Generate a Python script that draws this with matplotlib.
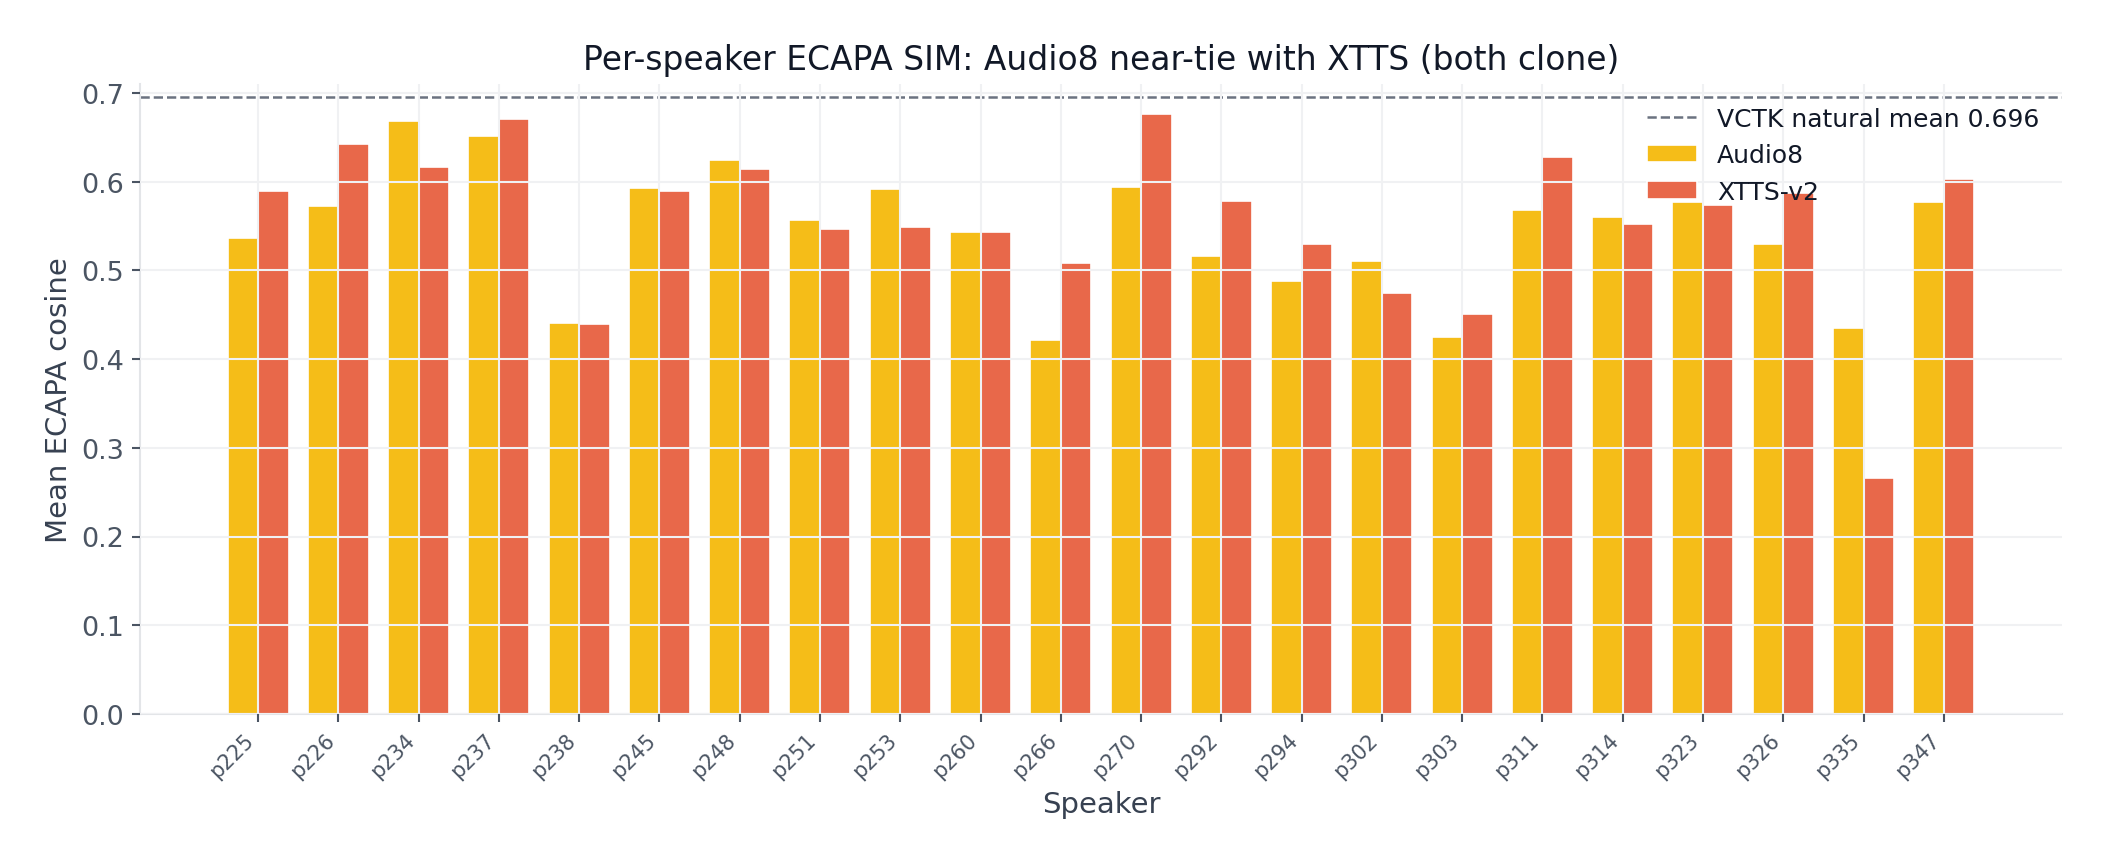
import numpy as np
import matplotlib
matplotlib.use("Agg")
import matplotlib.pyplot as plt

# per-speaker mean ECAPA cosine similarity
speakers = ["p225", "p226", "p234", "p237", "p238", "p245", "p248", "p251",
            "p253", "p260", "p266", "p270", "p292", "p294", "p302", "p303",
            "p311", "p314", "p323", "p326", "p335", "p347"]
audio8 = [0.537, 0.573, 0.668, 0.651, 0.441, 0.593, 0.624, 0.557,
          0.592, 0.543, 0.421, 0.594, 0.516, 0.488, 0.511, 0.425,
          0.568, 0.560, 0.577, 0.530, 0.435, 0.577]
xtts = [0.590, 0.643, 0.616, 0.671, 0.440, 0.590, 0.614, 0.547,
        0.549, 0.543, 0.508, 0.676, 0.578, 0.530, 0.475, 0.451,
        0.628, 0.552, 0.574, 0.587, 0.266, 0.603]
vctk_mean = 0.696

c_audio8 = "#F5BD18"
c_xtts = "#E8684A"
grid_c = "#F0F1F3"
text_dark = "#111827"
text_mid = "#374151"
tick_c = "#4B5563"

fig = plt.figure(figsize=(14.04, 5.773), dpi=150)
ax = fig.add_axes([0.0665, 0.1744, 0.9125, 0.7274])

x = np.arange(len(speakers))
w = 0.38
ax.bar(x - w / 2, audio8, w, color=c_audio8, edgecolor="white", linewidth=0.8, label="Audio8")
ax.bar(x + w / 2, xtts, w, color=c_xtts, edgecolor="white", linewidth=0.8, label="XTTS-v2")
ax.axhline(vctk_mean, color="#6B7280", linestyle="--", linewidth=1.2,
           label=f"VCTK natural mean {vctk_mean}")

ax.set_xlim(-1.47, len(speakers) - 1 + 1.47)
ax.set_ylim(0, 0.71)
ax.set_yticks(np.arange(0, 0.71, 0.1))
ax.set_yticklabels([f"{v:.1f}" for v in np.arange(0, 0.71, 0.1)])
ax.set_xticks(x)
ax.set_xticklabels(speakers, rotation=45, ha="right", fontsize=10)

ax.set_axisbelow(False)
ax.grid(True, color=grid_c, linewidth=1.0)
for s in ["top", "right"]:
    ax.spines[s].set_visible(False)
for s in ["left", "bottom"]:
    ax.spines[s].set_color("#E3E5E8")
    ax.spines[s].set_linewidth(1.0)
ax.tick_params(axis="both", colors=tick_c, length=4, width=1)
ax.tick_params(axis="y", labelsize=13)

ax.set_title("Per-speaker ECAPA SIM: Audio8 near-tie with XTTS (both clone)",
             fontsize=15.8, color=text_dark, pad=7)
ax.set_xlabel("Speaker", fontsize=14, color=text_mid)
ax.set_ylabel("Mean ECAPA cosine", fontsize=14, color=text_mid)

leg = ax.legend(loc="upper right", frameon=False, fontsize=12, labelcolor=text_dark)

fig.savefig("out.png", dpi=150)
